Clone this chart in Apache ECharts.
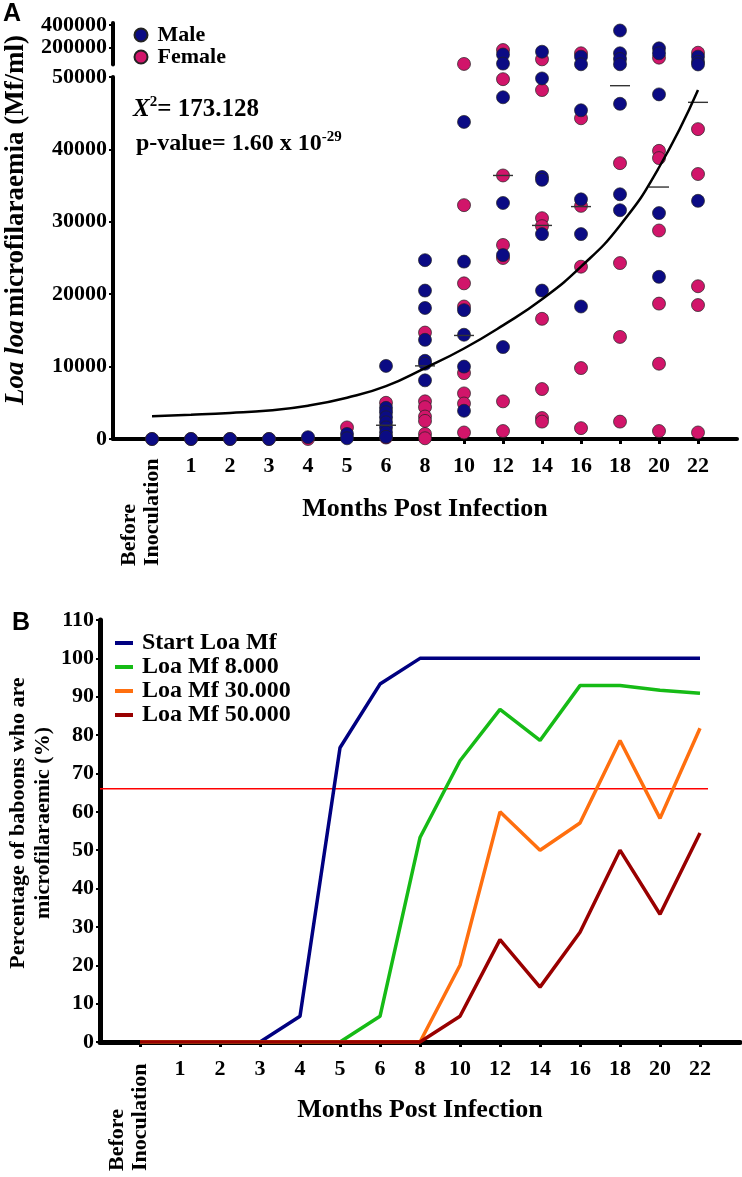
<!DOCTYPE html>
<html>
<head>
<meta charset="utf-8">
<title>Loa loa microfilaraemia</title>
<script src="https://cdn.jsdelivr.net/npm/echarts@6/dist/echarts.min.js"></script>
<style>
  html, body { margin: 0; padding: 0; background: #fff; }
  #chart { width: 742px; height: 1177px; }
</style>
</head>
<body>
<div id="chart"></div>
<script>
// categories: months post infection (position 1..15 on the x scale)
const categories = ['Before Inoculation', '1', '2', '3', '4', '5', '6', '8', '10', '12', '14', '16', '18', '20', '22'];

// panel A: Mf/ml per animal, one list per category
const maleMf = [
  [0], [0], [0], [0], [250], [700, 100],
  [10100, 4300, 3700, 3000, 2300, 1600, 900, 300],
  [24700, 20500, 18100, 13700, 10800, 10400, 8100],
  [43800, 24500, 17800, 14400, 10000, 3900],
  [139000, 58000, 47200, 32600, 25400, 12700],
  [164000, 49800, 36200, 35800, 28300, 20500],
  [120000, 52000, 45400, 33100, 28300, 18300],
  [353000, 150000, 99000, 52000, 46300, 33800, 31600],
  [194000, 150000, 47600, 31200, 22400],
  [120000, 75000, 50500, 32900]
];
const femaleMf = [
  [0], [0], [0], [0], [0], [1600],
  [5000, 200],
  [14700, 5200, 4400, 3100, 2500, 700, 100],
  [55000, 32300, 21500, 18300, 9100, 6300, 4900, 900],
  [179000, 49700, 36400, 26800, 25000, 5200, 1100],
  [96000, 48200, 30500, 29400, 16600, 6900, 2900, 2400],
  [150000, 44300, 32200, 23800, 9800, 1500],
  [38100, 24300, 14100, 2400],
  [111000, 39800, 38800, 28800, 18700, 10400, 1100],
  [155000, 42800, 36600, 21100, 18500, 900]
];
const medianMf = [null, null, null, null, null, null, 1900, 10100, 14300, 36400, 29500, 32100, 48800, 34800, 46500];
const trendMf = [3150, 3350, 3600, 3950, 4600, 5700, 7300, 9800, 12500, 15700, 19300, 23800, 29500, 37500, 48200];
const upperTicks = [200000, 400000];

// panel B: % microfilaraemic
const startMf = [0, 0, 0, 0, 6.7, 76.7, 93.3, 100, 100, 100, 100, 100, 100, 100, 100];
const mf8000 = [0, 0, 0, 0, 0, 0, 6.7, 53.3, 73.3, 86.7, 78.6, 92.9, 92.9, 91.7, 90.9];
const mf30000 = [0, 0, 0, 0, 0, 0, 0, 0, 20, 60, 50, 57.1, 78.6, 58.3, 81.8];
const mf50000 = [0, 0, 0, 0, 0, 0, 0, 0, 6.7, 26.7, 14.3, 28.6, 50, 33.3, 54.5];
const threshold = 66;
const thresholdEnd = 15.2;

const SERIF = '"Liberation Serif", "Times New Roman", serif';
const BREAK = 50000;
const MALE = '#0b0b84';
const FEMALE = '#d1156a';

const tickPos = categories.map((c, i) => i + 1);
const labelPos = tickPos.slice(1);

function points(groups, upper) {
  const out = [];
  groups.forEach((vals, i) => vals.forEach(v => {
    if ((v > BREAK) === upper) out.push([i + 1, v]);
  }));
  return out;
}
function pairs(arr) {
  return arr.map((v, i) => (v === null ? null : [i + 1, v])).filter(p => p);
}

function xAxisBase(grid, lineW) {
  return {
    type: 'value', gridIndex: grid, min: 0, max: 16,
    splitLine: { show: false },
    axisLine: { lineStyle: { color: '#000', width: lineW } },
    axisTick: { customValues: tickPos, length: 5, lineStyle: { color: '#000', width: 3 } },
    axisLabel: {
      customValues: labelPos, margin: 16,
      formatter: v => categories[v - 1],
      color: '#000', fontFamily: SERIF, fontWeight: 'bold', fontSize: 22
    },
    name: 'Months Post Infection', nameLocation: 'middle',
    nameTextStyle: { color: '#000', fontFamily: SERIF, fontWeight: 'bold', fontSize: 26 }
  };
}
const yLabel = { color: '#000', fontFamily: SERIF, fontWeight: 'bold', fontSize: 22, margin: 6, formatter: v => String(v) };

const scatterStyle = c => ({ color: c, opacity: 1, borderColor: '#222', borderWidth: 0.7 });

const option = {
  animation: false,
  backgroundColor: '#fff',
  grid: [
    { left: 113, right: 5, top: 23, height: 41.5 },
    { left: 113, right: 5, top: 77, height: 362 },
    { left: 100, right: 2, top: 620, height: 422 }
  ],
  xAxis: [
    { type: 'value', gridIndex: 0, min: 0, max: 16, show: false },
    Object.assign(xAxisBase(1, 4), { nameGap: 57 }),
    Object.assign(xAxisBase(2, 5), { nameGap: 55 })
  ],
  yAxis: [
    {
      type: 'value', gridIndex: 0, min: 50000, max: 420000,
      splitLine: { show: false },
      axisLine: { show: true, lineStyle: { color: '#000', width: 4 } },
      axisTick: { show: true, customValues: upperTicks, length: 4, lineStyle: { color: '#000', width: 2 } },
      axisLabel: Object.assign({ customValues: upperTicks }, yLabel)
    },
    {
      type: 'value', gridIndex: 1, min: 0, max: 50000, interval: 10000,
      splitLine: { show: false },
      axisLine: { show: true, lineStyle: { color: '#000', width: 4 } },
      axisTick: { show: true, length: 4, lineStyle: { color: '#000', width: 2 } },
      axisLabel: yLabel
    },
    {
      type: 'value', gridIndex: 2, min: 0, max: 110, interval: 10,
      splitLine: { show: false },
      axisLine: { show: true, lineStyle: { color: '#000', width: 5 } },
      axisTick: { show: true, length: 4, lineStyle: { color: '#000', width: 2 } },
      axisLabel: yLabel
    }
  ],
  legend: [
    {
      data: ['Male', 'Female'], orient: 'vertical', left: 133.5, top: 24,
      icon: 'circle', itemWidth: 13, itemHeight: 13, itemGap: 0, padding: 0,
      textStyle: { color: '#000', fontFamily: SERIF, fontWeight: 'bold', fontSize: 22, lineHeight: 22, padding: [0, 0, 0, 5] }
    },
    {
      data: ['Start Loa Mf', 'Loa Mf 8.000', 'Loa Mf 30.000', 'Loa Mf 50.000'],
      orient: 'vertical', left: 115, top: 631,
      icon: 'rect', itemWidth: 18, itemHeight: 4, itemGap: 0, padding: 0,
      textStyle: { color: '#000', fontFamily: SERIF, fontWeight: 'bold', fontSize: 24, lineHeight: 24, padding: [0, 0, 0, 4] }
    }
  ],
  series: [
    { name: 'Female', type: 'scatter', xAxisIndex: 1, yAxisIndex: 1, symbolSize: 13, itemStyle: scatterStyle(FEMALE), data: points(femaleMf, false) },
    { name: 'Female', type: 'scatter', xAxisIndex: 0, yAxisIndex: 0, symbolSize: 13, itemStyle: scatterStyle(FEMALE), data: points(femaleMf, true), clip: false },
    { name: 'Male', type: 'scatter', xAxisIndex: 1, yAxisIndex: 1, symbolSize: 13, itemStyle: scatterStyle(MALE), data: points(maleMf, false) },
    { name: 'Male', type: 'scatter', xAxisIndex: 0, yAxisIndex: 0, symbolSize: 13, itemStyle: scatterStyle(MALE), data: points(maleMf, true), clip: false },
    { name: 'median', type: 'scatter', xAxisIndex: 1, yAxisIndex: 1, symbol: 'rect', symbolSize: [20, 1.4], itemStyle: { color: '#333', opacity: 1 }, data: pairs(medianMf) },
    { name: 'trend', type: 'line', xAxisIndex: 1, yAxisIndex: 1, smooth: true, symbol: 'none', lineStyle: { color: '#000', width: 2.5 }, data: pairs(trendMf) },

    { name: 'threshold', type: 'line', xAxisIndex: 2, yAxisIndex: 2, symbol: 'none', lineStyle: { color: '#ff0000', width: 1.5 }, data: [[0, threshold], [thresholdEnd, threshold]] },
    { name: 'Start Loa Mf', type: 'line', xAxisIndex: 2, yAxisIndex: 2, symbol: 'none', color: '#000080', lineStyle: { width: 3.5 }, data: pairs(startMf) },
    { name: 'Loa Mf 8.000', type: 'line', xAxisIndex: 2, yAxisIndex: 2, symbol: 'none', color: '#16bb16', lineStyle: { width: 3.5 }, data: pairs(mf8000) },
    { name: 'Loa Mf 30.000', type: 'line', xAxisIndex: 2, yAxisIndex: 2, symbol: 'none', color: '#ff6f0f', lineStyle: { width: 3.5 }, data: pairs(mf30000) },
    { name: 'Loa Mf 50.000', type: 'line', xAxisIndex: 2, yAxisIndex: 2, symbol: 'none', color: '#990000', lineStyle: { width: 3.5 }, data: pairs(mf50000) }
  ],
  graphic: [
    { id: 'lblA', type: 'text', x: 3, y: 2, style: { text: 'A', fontFamily: '"Liberation Sans", Arial, sans-serif', fontWeight: 'bold', fontSize: 25, fill: '#000' } },
    { id: 'lblB', type: 'text', x: 12, y: 611, style: { text: 'B', fontFamily: '"Liberation Sans", Arial, sans-serif', fontWeight: 'bold', fontSize: 25, fill: '#000' } },
    {
      id: 'chi', type: 'text', x: 133, y: 110,
      style: {
        text: '{x|X}{s|2}{n|= 173.128}', verticalAlign: 'middle', fill: '#000',
        rich: {
          x: { fontFamily: SERIF, fontWeight: 'bold', fontStyle: 'italic', fontSize: 25, lineHeight: 30 },
          s: { fontFamily: SERIF, fontWeight: 'bold', fontSize: 15, lineHeight: 14, verticalAlign: 'top' },
          n: { fontFamily: SERIF, fontWeight: 'bold', fontSize: 25, lineHeight: 30 }
        }
      }
    },
    {
      id: 'pval', type: 'text', x: 136, y: 144,
      style: {
        text: '{n|p-value= 1.60 x 10}{s|-29}', verticalAlign: 'middle', fill: '#000',
        rich: {
          n: { fontFamily: SERIF, fontWeight: 'bold', fontSize: 24, lineHeight: 28 },
          s: { fontFamily: SERIF, fontWeight: 'bold', fontSize: 15, lineHeight: 12, verticalAlign: 'top' }
        }
      }
    },
    {
      id: 'ytA', type: 'text', x: 16, y: 220, rotation: Math.PI / 2,
      style: {
        text: '{i|Loa loa} {n|microfilaraemia (Mf/ml)}', align: 'center', verticalAlign: 'middle', fill: '#000',
        rich: {
          i: { fontFamily: SERIF, fontWeight: 'bold', fontStyle: 'italic', fontSize: 27 },
          n: { fontFamily: SERIF, fontWeight: 'bold', fontSize: 27 }
        }
      }
    },
    {
      id: 'ytB', type: 'text', x: 31, y: 823, rotation: Math.PI / 2,
      style: {
        text: 'Percentage of baboons who are\nmicrofilaraemic (%)', align: 'center', verticalAlign: 'middle',
        fontFamily: SERIF, fontWeight: 'bold', fontSize: 22, lineHeight: 24.5, fill: '#000'
      }
    }
  ]
};

const chart = echarts.init(document.getElementById('chart'), null, { renderer: 'canvas' });
chart.setOption(option);

// "Before Inoculation" is the only rotated tick label: place it on the scale position of category 1
const pA = chart.convertToPixel({ gridIndex: 1 }, [1, 0]);
const pB = chart.convertToPixel({ gridIndex: 2 }, [1, 0]);
const beforeStyle = {
  text: categories[0].replace(' ', '\n'), align: 'left', verticalAlign: 'middle',
  fontFamily: SERIF, fontWeight: 'bold', fontSize: 22, lineHeight: 23, fill: '#000'
};
chart.setOption({
  graphic: [
    { id: 'beforeA', type: 'text', x: pA[0] - 11.5, y: 566, rotation: Math.PI / 2, style: beforeStyle },
    { id: 'beforeB', type: 'text', x: pB[0] - 11.5, y: 1171, rotation: Math.PI / 2, style: beforeStyle }
  ]
});
</script>
</body>
</html>
